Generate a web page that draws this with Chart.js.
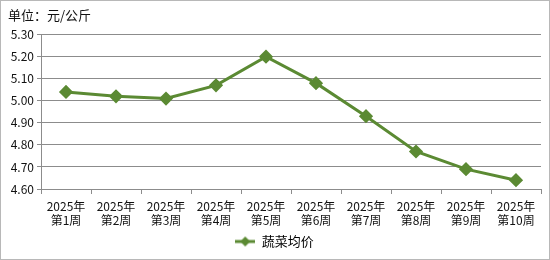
<!DOCTYPE html>
<html>
<head>
<meta charset="utf-8">
<script src="https://cdn.jsdelivr.net/npm/chart.js@4/dist/chart.umd.min.js"></script>
<style>
html,body{margin:0;padding:0;background:#fff;}
#wrap{width:548px;height:258px;border:1px solid #b8b8b8;position:relative;}
canvas{display:block;}
</style>
</head>
<body>
<div id="wrap"><canvas id="c" width="548" height="258"></canvas></div>
<script>
const categories = [
  ["2025年","第1周"],["2025年","第2周"],["2025年","第3周"],["2025年","第4周"],["2025年","第5周"],
  ["2025年","第6周"],["2025年","第7周"],["2025年","第8周"],["2025年","第9周"],["2025年","第10周"]
];
const seriesName = "蔬菜均价";
const vegPrice = [5.04, 5.02, 5.01, 5.07, 5.20, 5.08, 4.93, 4.77, 4.69, 4.64];
const yMin = 4.6, yMax = 5.3, yStep = 0.1;
const unitTitle = "单位：元/公斤";

const green = '#5B8A33';
const gridGray = '#8c8c8c';
const FONT = '"Noto Sans CJK SC", "DejaVu Sans", sans-serif';

// legend icon: line with diamond
const icon = document.createElement('canvas');
icon.width = 20; icon.height = 12;
(function(){
  const g = icon.getContext('2d');
  g.strokeStyle = green; g.lineWidth = 3;
  g.beginPath(); g.moveTo(0,6); g.lineTo(20,6); g.stroke();
  g.fillStyle = green;
  g.beginPath(); g.moveTo(10,1); g.lineTo(15,6); g.lineTo(10,11); g.lineTo(5,6); g.closePath(); g.fill();
})();

new Chart(document.getElementById('c'), {
  type: 'line',
  data: {
    labels: categories,
    datasets: [{
      label: seriesName,
      data: vegPrice,
      borderColor: green,
      backgroundColor: green,
      borderWidth: 3,
      pointStyle: 'rectRot',
      pointRadius: 5,
      pointHoverRadius: 5,
      pointBackgroundColor: green,
      pointBorderColor: green,
      tension: 0
    }]
  },
  options: {
    responsive: false,
    animation: false,
    devicePixelRatio: 1,
    layout: { padding: { left: 7, right: 8, top: 0, bottom: 1 } },
    plugins: {
      tooltip: { enabled: false },
      title: {
        display: true,
        text: unitTitle,
        align: 'start',
        color: '#111',
        font: { family: FONT, size: 13, weight: 'normal' },
        padding: { top: 6, bottom: 12 }
      },
      legend: {
        position: 'bottom',
        labels: {
          color: '#111',
          font: { family: FONT, size: 13 },
          usePointStyle: true,
          pointStyleWidth: 20,
          padding: 8,
          generateLabels: (chart) => [{
            text: seriesName,
            pointStyle: icon,
            fillStyle: green,
            strokeStyle: green,
            lineWidth: 0,
            datasetIndex: 0
          }]
        }
      }
    },
    scales: {
      x: {
        offset: true,
        grid: { offset: true, drawOnChartArea: false, drawTicks: true, tickLength: 5, color: gridGray },
        border: { display: true, color: gridGray, width: 1 },
        ticks: { color: '#111', font: { family: FONT, size: 12, lineHeight: 1.2 }, maxRotation: 0, autoSkip: false, padding: 5 },
        afterFit: (s) => { s.height = 38; }
      },
      y: {
        min: yMin, max: yMax,
        grid: { color: gridGray, tickLength: 4, drawTicks: true },
        border: { display: true, color: gridGray, width: 1 },
        ticks: { stepSize: yStep, color: '#111', font: { family: FONT, size: 12 }, padding: 3,
          callback: (v) => Number(v).toFixed(2) },
        afterFit: (s) => { s.width = 33; }
      }
    }
  }
});
</script>
</body>
</html>
